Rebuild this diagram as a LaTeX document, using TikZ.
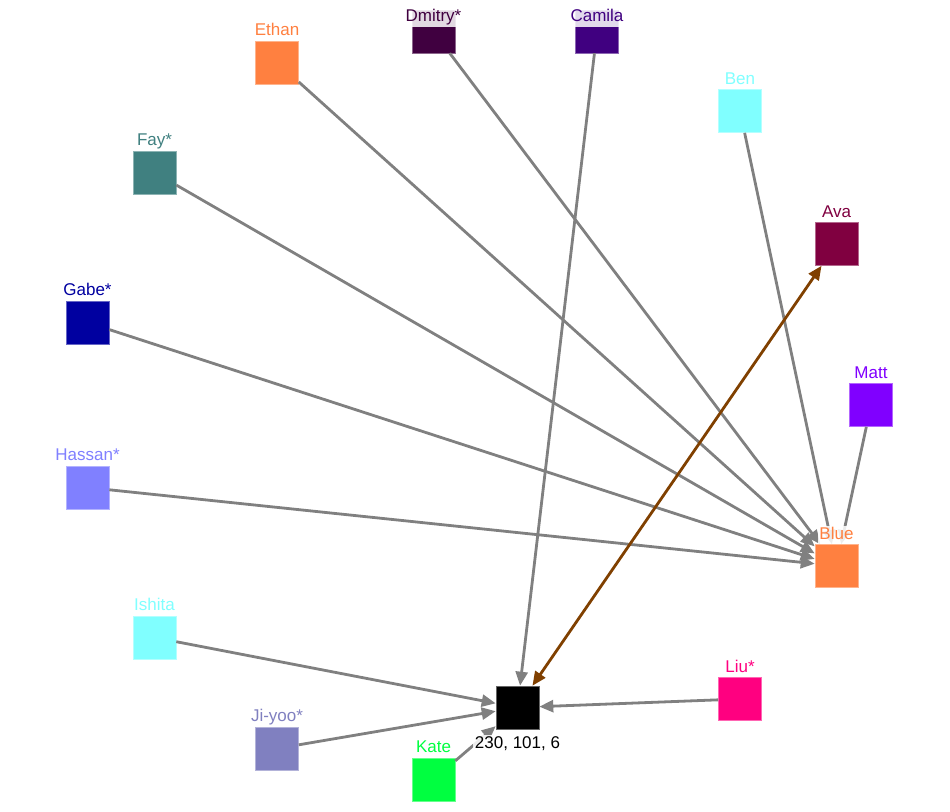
\documentclass[tikz,border=0pt]{standalone}
\usepackage{fontspec}
\setmainfont{Liberation Sans}
\usetikzlibrary{arrows.meta}
\definecolor{ethanc}{HTML}{FF8040}
\definecolor{dmitryc}{HTML}{400040}
\definecolor{camilac}{HTML}{400080}
\definecolor{benc}{HTML}{80FFFF}
\definecolor{fayc}{HTML}{408080}
\definecolor{avac}{HTML}{800040}
\definecolor{gabec}{HTML}{0000A0}
\definecolor{mattc}{HTML}{8000FF}
\definecolor{hassanc}{HTML}{8080FF}
\definecolor{bluec}{HTML}{FF8040}
\definecolor{ishitac}{HTML}{80FFFF}
\definecolor{liuc}{HTML}{FF0080}
\definecolor{jiyooc}{HTML}{8080C0}
\definecolor{katec}{HTML}{00FF40}
\definecolor{edgegray}{HTML}{808080}
\definecolor{edgebrown}{HTML}{804000}
\begin{document}
\begin{tikzpicture}[x=1pt, y=-1pt,
    person/.style={rectangle, minimum size=43pt, inner sep=0pt, fill=#1, draw=#1!60!white, line width=0.6pt},
    lbl/.style={text=#1, font=\fontsize{17}{19}\selectfont, fill=white, fill opacity=0.85, text opacity=1,
                inner sep=1.5pt, text height=12pt, text depth=3.5pt},
    link/.style={draw=edgegray, line width=2.8pt, -{Triangle[length=14pt, width=12pt]}},
    duo/.style={draw=edgebrown, line width=2.8pt, {Triangle[length=14pt, width=12pt]}-{Triangle[length=14pt, width=12pt]}}]
    \useasboundingbox (0,0) rectangle (950,811);
    % squares
    \node[person=ethanc] (ethan) at (277,62.5) {};
    \node[person=dmitryc] (dmitry) at (433.5,31.5) {};
    \node[person=camilac] (camila) at (597,31.5) {};
    \node[person=benc] (ben) at (740,111) {};
    \node[person=fayc] (fay) at (154.5,172.5) {};
    \node[person=avac] (ava) at (836.5,244) {};
    \node[person=gabec] (gabe) at (87.5,322.5) {};
    \node[person=mattc] (matt) at (871,405) {};
    \node[person=hassanc] (hassan) at (87.5,487.5) {};
    \node[person=bluec] (blue) at (836.5,566) {};
    \node[person=ishitac] (ishita) at (154.5,637.5) {};
    \node[person=liuc] (liu) at (740,699) {};
    \node[person=black] (hub) at (517.5,707.5) {};
    \node[person=jiyooc] (jiyoo) at (277,748.5) {};
    \node[person=katec] (kate) at (433.5,779.5) {};
    % links
    \draw[link] (ethan) -- (blue);
    \draw[link] (dmitry) -- (blue);
    \draw[link] (ben) -- (blue);
    \draw[link] (fay) -- (blue);
    \draw[link] (gabe) -- (blue);
    \draw[link] (hassan) -- (blue);
    \draw[link] (matt) -- (blue);
    \draw[link] (camila) -- (hub);
    \draw[link] (ishita) -- (hub);
    \draw[link] (jiyoo) -- (hub);
    \draw[link] (kate) -- (hub);
    \draw[link] (liu) -- (hub);
    \draw[duo] (hub) -- (ava);
    % labels
    \node[lbl=ethanc] (ethanlbl) at (277,31) {Ethan};
    \node[lbl=dmitryc] (dmitrylbl) at (433.5,17.5) {Dmitry*};
    \node[lbl=camilac] (camilalbl) at (597,17.5) {Camila};
    \node[lbl=benc] (benlbl) at (740,80) {Ben};
    \node[lbl=fayc] (faylbl) at (154.5,141.5) {Fay*};
    \node[lbl=avac] (avalbl) at (836.5,213) {Ava};
    \node[lbl=gabec] (gabelbl) at (87.5,291.5) {Gabe*};
    \node[lbl=mattc] (mattlbl) at (871,374) {Matt};
    \node[lbl=hassanc] (hassanlbl) at (87.5,456.5) {Hassan*};
    \node[lbl=bluec] (bluelbl) at (836.5,535) {Blue};
    \node[lbl=ishitac] (ishitalbl) at (154.5,606.5) {Ishita};
    \node[lbl=liuc] (liulbl) at (740,668) {Liu*};
    \node[lbl=black] (hublbl) at (517.5,744) {230, 101, 6};
    \node[lbl=jiyooc] (jiyoolbl) at (277,717.5) {Ji-yoo*};
    \node[lbl=katec] (katelbl) at (433.5,748.5) {Kate};
\end{tikzpicture}
\end{document}
